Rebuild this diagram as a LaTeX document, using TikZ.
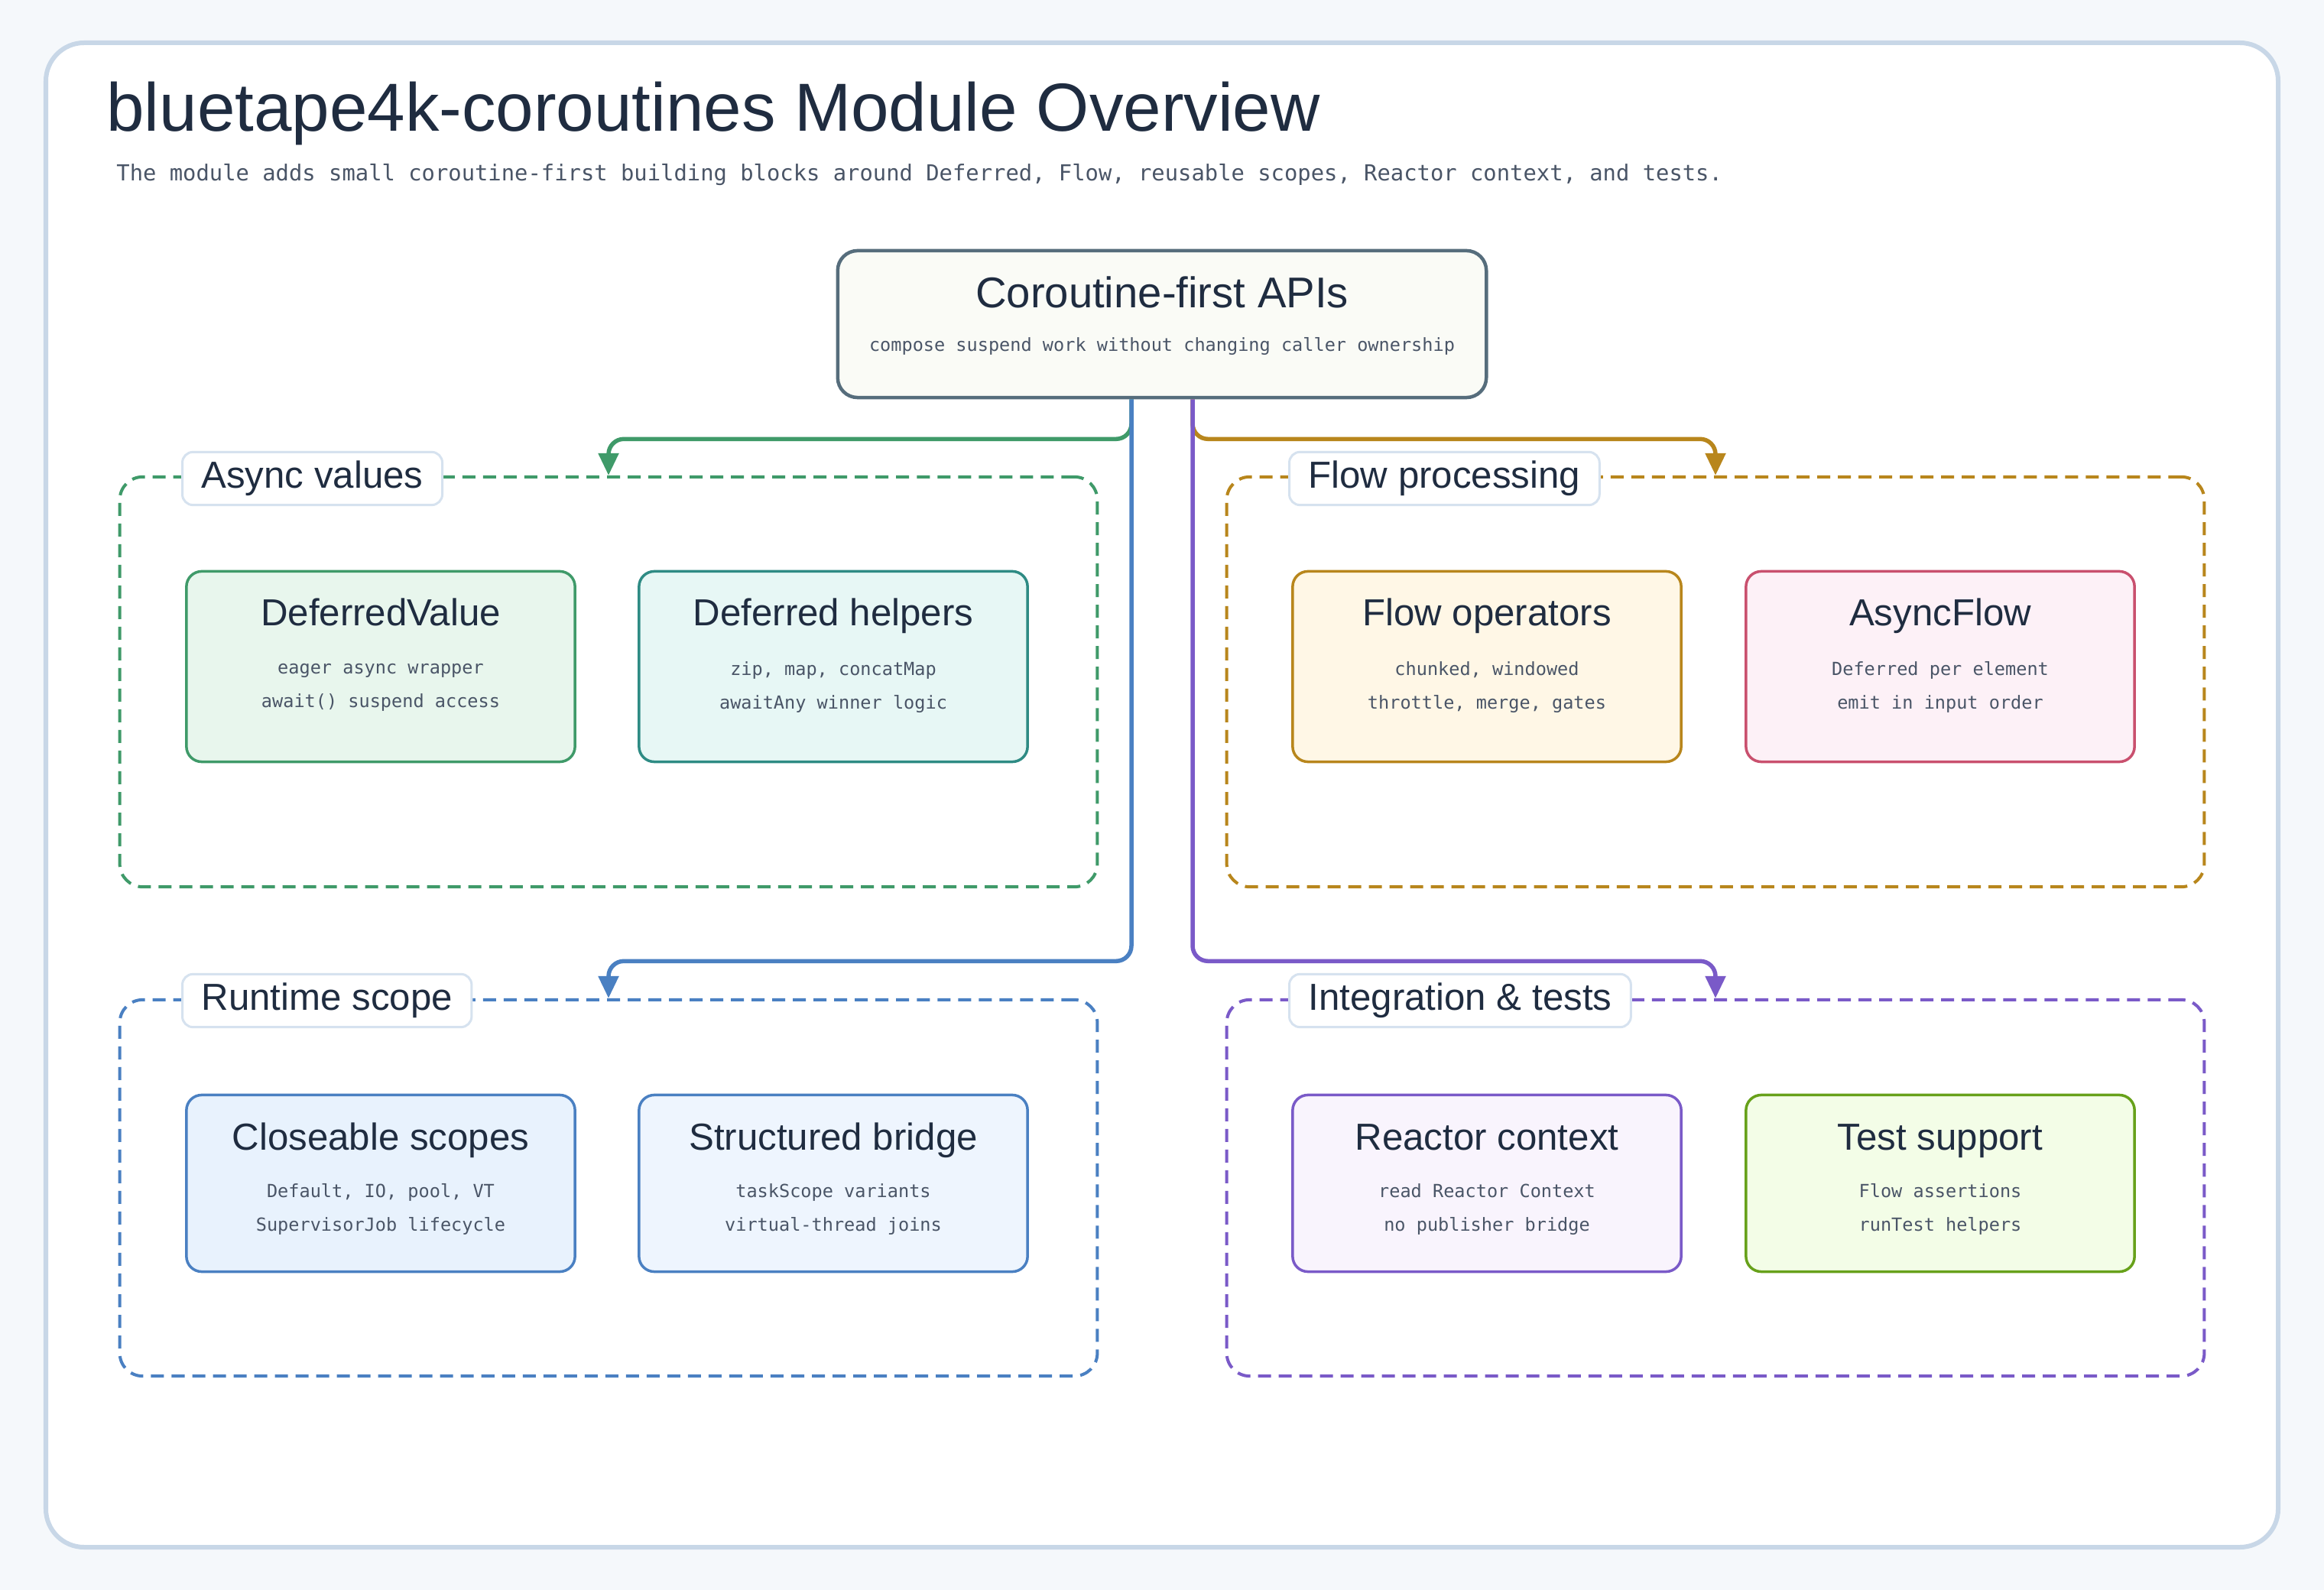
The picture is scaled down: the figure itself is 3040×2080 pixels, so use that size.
\documentclass[tikz,border=0pt]{standalone}
\usepackage{fontspec}
\setmainfont{Liberation Sans}
\setmonofont{DejaVu Sans Mono}
\usepackage{xcolor}
\usetikzlibrary{positioning, arrows.meta, calc}

\definecolor{pagebg}{HTML}{F5F8FB}
\definecolor{framestroke}{HTML}{C8D7E7}
\definecolor{labelstroke}{HTML}{D6E2EF}
\definecolor{inkdark}{HTML}{1F2C40}
\definecolor{inkgray}{HTML}{4A5567}
\definecolor{apistroke}{HTML}{566D7C}
\definecolor{apifill}{HTML}{FAFBF6}
\definecolor{asyncgreen}{HTML}{3F9A69}
\definecolor{helperteal}{HTML}{2E8B84}
\definecolor{flowgold}{HTML}{B8861C}
\definecolor{asyncrose}{HTML}{C9506E}
\definecolor{runblue}{HTML}{4A80C2}
\definecolor{integpurple}{HTML}{7A5AC8}
\definecolor{testgreen}{HTML}{67A11A}
\definecolor{dvfill}{HTML}{E8F6ED}
\definecolor{dhfill}{HTML}{E7F7F5}
\definecolor{fofill}{HTML}{FFF7E6}
\definecolor{affill}{HTML}{FDF1F7}
\definecolor{csfill}{HTML}{E8F2FD}
\definecolor{sbfill}{HTML}{EEF5FE}
\definecolor{rcfill}{HTML}{F9F4FD}
\definecolor{tsfill}{HTML}{F3FDE7}

\tikzset{
  card/.style={rectangle, draw, line width=0.035cm, rounded corners=0.2cm, minimum width=5.08cm},
  grp/.style={rectangle, draw, dash pattern=on 0.17cm off 0.1cm, line width=0.04cm, rounded corners=0.3cm, minimum width=12.78cm},
  grplabel/.style={rectangle, draw=labelstroke, fill=white, line width=0.03cm, rounded corners=0.14cm, minimum height=0.68cm, inner xsep=0.25cm, anchor=west, text=inkdark, font=\fontsize{14pt}{16pt}\selectfont},
  cardtitle/.style={anchor=base, text=inkdark, font=\fontsize{14pt}{16pt}\selectfont},
  cardnote/.style={align=center, text=inkgray, font=\ttfamily\fontsize{6.7pt}{12.5pt}\selectfont},
  link/.style={line width=0.055cm, rounded corners=0.2cm, -{Triangle[length=0.29cm, width=0.26cm]}}
}

\begin{document}
\begin{tikzpicture}[x=0.01cm, y=-0.01cm]

% Page and frame
\useasboundingbox (0,0) rectangle (3040,2080);
\fill[pagebg] (0,0) rectangle (3040,2080);
\draw[draw=framestroke, fill=white, line width=0.06cm, rounded corners=0.5cm] (60,56) rectangle (2980,2024);

% Heading
\node[anchor=base west, text=inkdark, font=\fontsize{25.3pt}{30pt}\selectfont] (title) at (127,172) {bluetape4k-coroutines Module Overview};
\node[anchor=base west, text=inkgray, font=\ttfamily\fontsize{8.2pt}{10pt}\selectfont] (subtitle) at (140,237) {The module adds small coroutine-first building blocks around Deferred, Flow, reusable scopes, Reactor context, and tests.};

% Central API box
\node[rectangle, draw=apistroke, fill=apifill, line width=0.045cm, rounded corners=0.26cm, minimum width=8.48cm, minimum height=1.92cm] (api) at (1520,424) {};
\node[anchor=base, text=inkdark, font=\fontsize{16pt}{18pt}\selectfont] (apititle) at (1520,403) {Coroutine-first APIs};
\node[anchor=base, text=inkgray, font=\ttfamily\fontsize{6.7pt}{8pt}\selectfont] (apinote) at (1520,460) {compose suspend work without changing caller ownership};

% Group frames
\node[grp, draw=asyncgreen, minimum height=5.36cm] (asyncgrp) at (796,892) {};
\node[grp, draw=flowgold, minimum height=5.36cm] (flowgrp) at (2244,892) {};
\node[grp, draw=runblue, minimum height=4.92cm] (runtimegrp) at (796,1554) {};
\node[grp, draw=integpurple, minimum height=4.92cm] (integgrp) at (2244,1554) {};

\node[grplabel] (asynclabel) at (237,626) {Async values};
\node[grplabel] (flowlabel) at (1685,626) {Flow processing};
\node[grplabel] (runtimelabel) at (237,1309) {Runtime scope};
\node[grplabel] (integlabel) at (1685,1309) {Integration \& tests};

% Cards - async values
\node[card, draw=asyncgreen, fill=dvfill, minimum height=2.49cm] (dv) at (498,872) {};
\node[cardtitle] (dvtitle) at (498,819) {DeferredValue};
\node[cardnote] (dvnote) at (498,899) {eager async wrapper\\await() suspend access};

\node[card, draw=helperteal, fill=dhfill, minimum height=2.49cm] (dh) at (1090,872) {};
\node[cardtitle] (dhtitle) at (1090,819) {Deferred helpers};
\node[cardnote] (dhnote) at (1090,899) {zip, map, concatMap\\awaitAny winner logic};

% Cards - flow processing
\node[card, draw=flowgold, fill=fofill, minimum height=2.49cm] (fo) at (1945,872) {};
\node[cardtitle] (fotitle) at (1945,819) {Flow operators};
\node[cardnote] (fonote) at (1945,899) {chunked, windowed\\throttle, merge, gates};

\node[card, draw=asyncrose, fill=affill, minimum height=2.49cm] (af) at (2538,872) {};
\node[cardtitle] (aftitle) at (2538,819) {AsyncFlow};
\node[cardnote] (afnote) at (2538,899) {Deferred per element\\emit in input order};

% Cards - runtime scope
\node[card, draw=runblue, fill=csfill, minimum height=2.31cm] (cs) at (498,1548) {};
\node[cardtitle] (cstitle) at (498,1504) {Closeable scopes};
\node[cardnote] (csnote) at (498,1582) {Default, IO, pool, VT\\SupervisorJob lifecycle};

\node[card, draw=runblue, fill=sbfill, minimum height=2.31cm] (sb) at (1090,1548) {};
\node[cardtitle] (sbtitle) at (1090,1504) {Structured bridge};
\node[cardnote] (sbnote) at (1090,1582) {taskScope variants\\virtual-thread joins};

% Cards - integration & tests
\node[card, draw=integpurple, fill=rcfill, minimum height=2.31cm] (rc) at (1945,1548) {};
\node[cardtitle] (rctitle) at (1945,1504) {Reactor context};
\node[cardnote] (rcnote) at (1945,1582) {read Reactor Context\\no publisher bridge};

\node[card, draw=testgreen, fill=tsfill, minimum height=2.31cm] (ts) at (2538,1548) {};
\node[cardtitle] (tstitle) at (2538,1504) {Test support};
\node[cardnote] (tsnote) at (2538,1582) {Flow assertions\\runTest helpers};

% Connectors
\coordinate (apiL) at ($(api.south)+(-40,0)$);
\coordinate (apiR) at ($(api.south)+(40,0)$);
\draw[link, asyncgreen] (apiL) -- ++(0,52) -| (asyncgrp.north);
\draw[link, flowgold] (apiR) -- ++(0,52) -| (flowgrp.north);
\draw[link, runblue] (apiL) -- ++(0,735) -| (runtimegrp.north);
\draw[link, integpurple] (apiR) -- ++(0,735) -| (integgrp.north);

\end{tikzpicture}
\end{document}
